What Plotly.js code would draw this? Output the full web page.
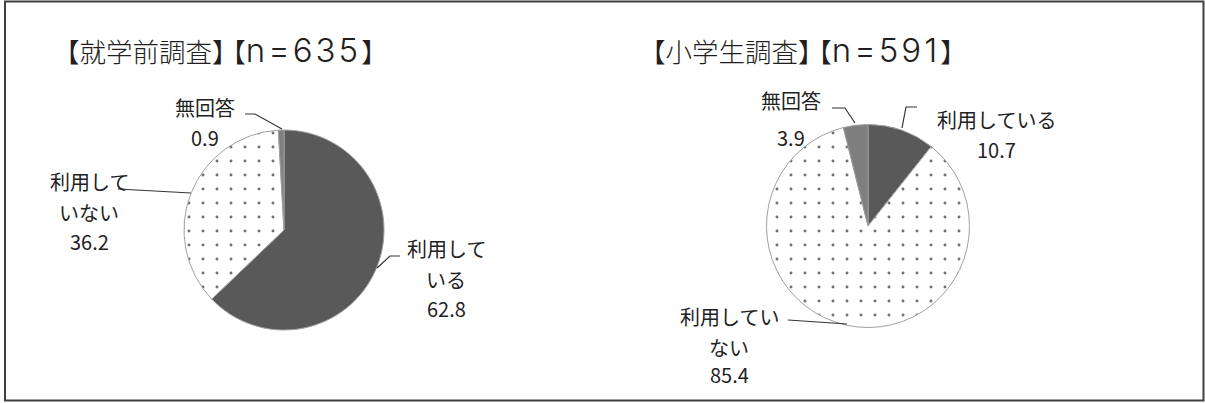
<!DOCTYPE html>
<html><head><meta charset="utf-8">
<script src="https://cdn.plot.ly/plotly-3.0.1.min.js"></script>
<style>html,body{margin:0;padding:0;background:#fff;}#chart{width:1205px;height:403px;}</style>
</head><body><div id="chart"></div>
<script>
// ---- data ----
const categories = ['利用している', '利用していない', '無回答'];
const preschoolValues = [62.8, 36.2, 0.9];
const elementaryValues = [10.7, 85.4, 3.9];
const surveyNames = ['就学前調査', '小学生調査'];
const sampleSizes = ['n=635', 'n=591'];
const preschoolLabelLines = [['利用して', 'いる'], ['利用して', 'いない'], ['無回答']];
const elementaryLabelLines = [['利用している'], ['利用してい', 'ない'], ['無回答']];

// ---- layout helpers (pixel -> paper) ----
const W = 1205, H = 403;
const px = x => x / W;
const py = y => 1 - y / H;

const sliceColors = ['#595959', '#ffffff', '#7f7f7f'];
const pies = [
  {cx: 284, cy: 230, r: 100, values: preschoolValues, lines: preschoolLabelLines,
   titleX: 51,
   labelPos: [{x: 446, ys: [249, 279, 308]}, {x: 89, ys: [181, 212, 241]}, {x: 205, ys: [107.5, 137.5]}],
   leaders: [[[400,256],[390,256],[377,268]], [[118,189],[191,193]], [[245,114],[255,114],[282,129]]]},
  {cx: 868, cy: 226, r: 101.5, values: elementaryValues, lines: elementaryLabelLines,
   titleX: 637,
   labelPos: [{x: 997, ys: [119, 150]}, {x: 729, ys: [316, 347, 374]}, {x: 791, ys: [100, 137]}],
   leaders: [[[917,107],[906,107],[902,128]], [[788,320],[847,324]], [[832,108],[845,108],[855,123]]]}
];

const cjk = '"Noto Sans CJK JP", sans-serif';
const labelFont = {family: cjk, size: 20, color: '#222'};
const titleFont = {family: cjk, size: 26.5, color: '#231f20', weight: 300};
const traces = [];
const annotations = [];
const shapes = [];

pies.forEach((p, i) => {
  traces.push({
    type: 'pie',
    labels: categories,
    values: p.values,
    sort: false,
    direction: 'clockwise',
    rotation: 0,
    textinfo: 'none',
    hoverinfo: 'label+value',
    showlegend: false,
    domain: {x: [px(p.cx - p.r), px(p.cx + p.r)], y: [py(p.cy + p.r), py(p.cy - p.r)]},
    marker: {
      colors: sliceColors,
      line: {color: '#a0a0a0', width: 1},
      pattern: {shape: ['', '.', ''], fgcolor: '#707070', bgcolor: '#ffffff', size: 14, solidity: 0.035}
    }
  });
  // title: 【name】【n=...】 as one text
  const titleText = '【' + surveyNames[i] + '<span style="letter-spacing:-6px">】</span>【' +
    '<span style="font-family:Inter, \'DejaVu Sans\', sans-serif;font-size:33px;font-weight:300;letter-spacing:3px">' +
    sampleSizes[i] + '</span>】';
  annotations.push({xref: 'paper', yref: 'paper', x: px(p.titleX), y: py(50), xanchor: 'left', yanchor: 'middle',
    text: titleText, showarrow: false, font: titleFont});
  // slice labels
  categories.forEach((c, k) => {
    const lp = p.labelPos[k];
    const textLines = p.lines[k].concat([p.values[k].toFixed(1)]);
    textLines.forEach((t, j) => {
      annotations.push({xref: 'paper', yref: 'paper', x: px(lp.x), y: py(lp.ys[j]), xanchor: 'center', yanchor: 'middle',
        text: t, showarrow: false, font: labelFont});
    });
    const pts = p.leaders[k];
    const path = pts.map((q, m) => (m === 0 ? 'M' : 'L') + px(q[0]) + ',' + py(q[1])).join(' ');
    shapes.push({type: 'path', xref: 'paper', yref: 'paper', path: path, line: {color: '#333', width: 1.2}});
  });
});

// outer frame
shapes.push({type: 'rect', xref: 'paper', yref: 'paper', x0: px(5), x1: px(1203.5), y0: py(400.5), y1: py(1.5),
  line: {color: '#404040', width: 2}});

Plotly.newPlot('chart', traces, {
  width: W, height: H,
  margin: {l: 0, r: 0, t: 0, b: 0},
  paper_bgcolor: '#ffffff',
  annotations: annotations,
  shapes: shapes
}, {staticPlot: true});
</script></body></html>
